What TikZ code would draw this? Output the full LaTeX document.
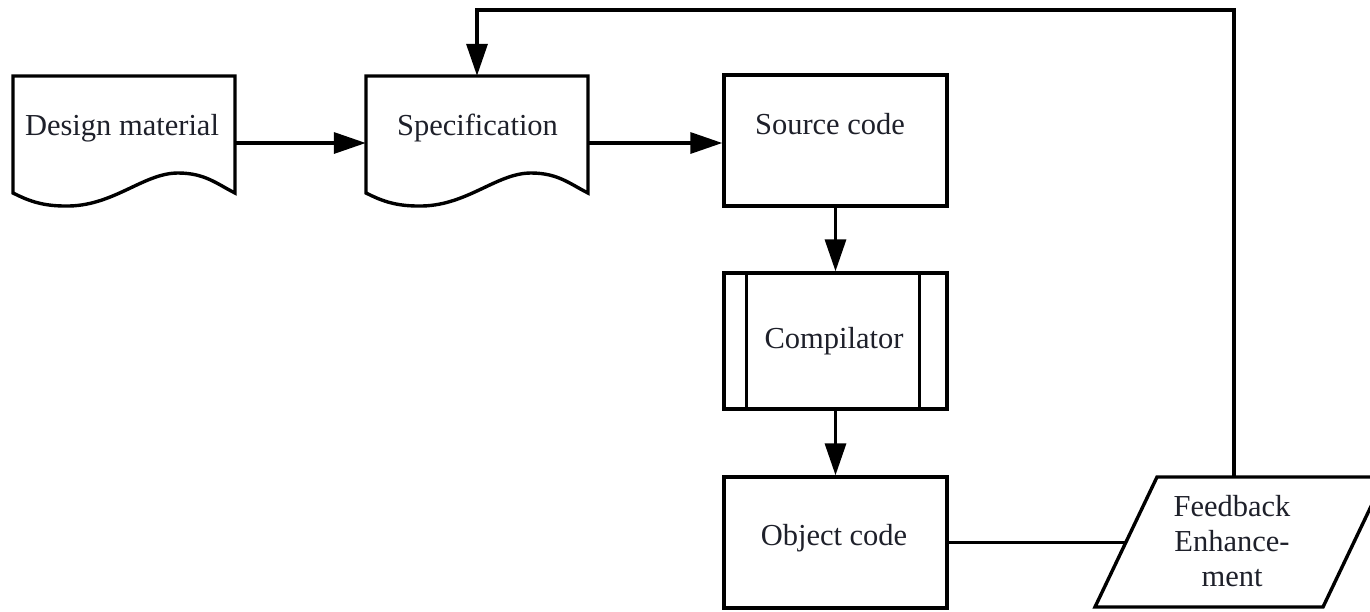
\documentclass[tikz,border=0pt]{standalone}
\usepackage{fontspec}
\setmainfont{Liberation Serif}
\newfontfamily\tnr{Liberation Serif}
\usetikzlibrary{arrows.meta,calc}
\definecolor{ink}{RGB}{30,32,42}
\tikzset{
  line/.style={line width=3.4pt, line join=miter},
  arr/.style={line, -{Triangle[length=32pt,width=21pt]}},
  area/.style={draw=none, inner sep=0pt, minimum width=222pt, minimum height=134pt},
  box/.style={draw, line, inner sep=0pt, minimum width=223pt},
  txt/.style={text=ink, font=\tnr\fontsize{30.5}{35}\selectfont, inner sep=0pt},
  docshape/.pic={
    \draw[line] (0,117) -- (0,0) -- (222,0) -- (222,117)
      .. controls (204,108) and (192,97) .. (165,97)
      .. controls (130,97) and (100,131) .. (52,130)
      .. controls (28,130) and (14,124) .. (0,117) -- cycle;
  }
}
\begin{document}
\begin{tikzpicture}[x=1pt,y=-1pt]
\useasboundingbox (0,0) rectangle (1370,611);
\fill[white] (0,0) rectangle (1370,611);

% documents
\pic at (13,76) {docshape};
\pic at (366,76) {docshape};
\node[area] (dm) at (124,143) {};
\node[area] (spec) at (477,143) {};

% process boxes
\node[box, minimum height=131pt] (src) at (835.5,140.5) {};
\node[box, minimum height=136pt] (comp) at (835.5,341) {};
\node[box, minimum height=131pt] (obj) at (835.5,542.5) {};
\draw[line] ([xshift=24pt]comp.north west) -- ([xshift=24pt]comp.south west);
\draw[line] ([xshift=-29pt]comp.north east) -- ([xshift=-29pt]comp.south east);

% parallelogram
\draw[line] (1095,607) -- (1157,477) -- (1385,477) -- (1323,607) -- cycle;
\coordinate (fbtop) at (1234,477);
\coordinate (fbin) at (1126,542.5);
\coordinate (topline) at (0,10);

% texts
\node[txt, anchor=base] (dmt) at (122,135) {Design material};
\node[txt, anchor=base] (spect) at (477.5,135) {Specification};
\node[txt, anchor=base] (srct) at (830,134) {Source code};
\node[txt, anchor=base] (compt) at (834,348) {Compilator};
\node[txt, anchor=base] (objt) at (834,545) {Object code};
\node[txt, align=center] (fbt) at (1232,541.5) {Feedback\\Enhance-\\ment};

% connectors
\draw[arr] (dm.east) -- (spec.west);
\draw[arr] (spec.east) -- (spec.east -| src.west);
\draw[arr] (src.south) -- (comp.north);
\draw[arr] (comp.south) -- (obj.north);
\draw[line] (obj.east) -- (fbin);
\draw[arr] (fbtop) -- (fbtop |- topline) -| (spec.north);
\end{tikzpicture}
\end{document}
